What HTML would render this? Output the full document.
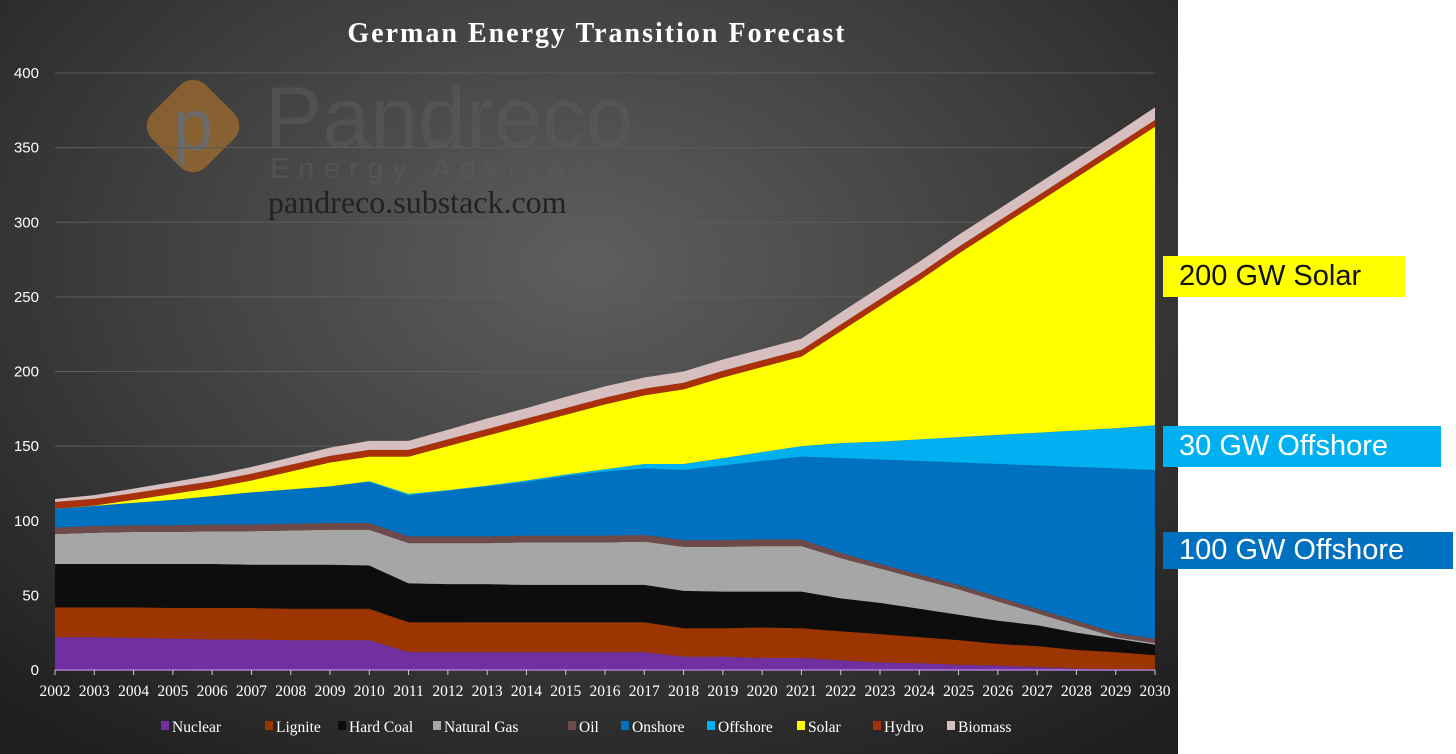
<!DOCTYPE html>
<html><head><meta charset="utf-8">
<style>
html,body{margin:0;padding:0;background:#fff;width:1456px;height:754px;overflow:hidden;font-family:"Liberation Serif",serif;}
#panel{position:absolute;left:0;top:0;width:1178px;height:754px;background:radial-gradient(ellipse 75% 80% at 50% 35%,#5e5e5e 0%,#3c3c3c 55%,#1e1e1e 100%);}
.lbl{position:absolute;font-family:"Liberation Sans",sans-serif;font-size:29px;color:#111;padding-left:16px;box-sizing:border-box;}
</style></head><body>
<div id="panel"></div>
<svg id="chart" width="1456" height="754" style="position:absolute;left:0;top:0">
  <g opacity="0.6">
    <rect x="155" y="88" width="76" height="76" rx="18" transform="rotate(45 193 126)" fill="#b8782a"/>
    <text x="193" y="150" text-anchor="middle" font-family="Liberation Sans,sans-serif" font-size="72" fill="#888">p</text>
    <text x="265" y="147" font-family="Liberation Sans,sans-serif" font-size="86" fill="#5a5a5a">Pandreco</text>
    <text x="270" y="178" font-family="Liberation Sans,sans-serif" font-size="29" letter-spacing="9" fill="#5a5a5a">Energy Advisory</text>
  </g>
  <text x="268" y="213" font-family="Liberation Serif,serif" font-size="32" fill="#222">pandreco.substack.com</text>
  <text x="597" y="42" text-anchor="middle" font-family="Liberation Serif,serif" font-weight="bold" font-size="28" letter-spacing="2" fill="#fff">German Energy Transition Forecast</text>
  <g id="grid"></g><g id="areas"></g><g id="axes"></g><g id="legend"></g>
</svg>
<div class="lbl" style="left:1163px;top:256px;width:242px;height:41px;line-height:41px;background:#ffff00;">200 GW Solar</div>
<div class="lbl" style="left:1163px;top:426px;width:278px;height:41px;line-height:41px;background:#00b0f0;color:#fff;">30 GW Offshore</div>
<div class="lbl" style="left:1163px;top:532px;width:290px;height:37px;line-height:37px;background:#0070c0;color:#fff;">100 GW Offshore</div>
<script>
const years=[2002,2003,2004,2005,2006,2007,2008,2009,2010,2011,2012,2013,2014,2015,2016,2017,2018,2019,2020,2021,2022,2023,2024,2025,2026,2027,2028,2029,2030];
const seriesNames=["Nuclear","Lignite","Hard Coal","Natural Gas","Oil","Onshore","Offshore","Solar","Hydro","Biomass"];
const nuclear=[22,22,21.5,21,20.5,20.5,20,20,20,12,12,12,12,12,12,12,9,9,8,8,6.5,5,4.5,3.5,3,2,1,0.5,0];
const lignite=[20,20,20.5,20.5,21,21,21,21,21,20,20,20,20,20,20,20,19,19,20.5,20,19.5,19,17.5,16.5,14.5,14,12.5,11.5,10];
const hardCoal=[29,29,29,29.5,29.5,29,29.5,29.5,29,26,25.5,25.5,25,25,25,25,25,24.5,24,24.5,22,21,19,17,15.5,14,11.5,9,7];
const naturalGas=[20,21,21.5,21.5,22,22.5,23,23.5,24,27,27.5,27.5,28.5,28.5,28.5,29,29.5,30,30.5,30.5,27,23,20,17,13,8,5,1,1];
const oil=[4.5,4.5,4.5,4.5,4.5,4.5,4.5,4.5,4.5,4.5,4.5,4.5,4.5,4.5,4.5,4.5,4.5,4.5,4.5,4.5,3.5,3,3,3,3,3,3,3,3];
const onshore=[12.5,13.5,15,17,19,21.5,23,24.5,27.5,27.5,30.5,33.5,36,40,43,44.5,47,50,52.5,55.5,63.5,70,76,82,89,96,103,110,113];
const offshore=[0,0,0,0,0,0,0,0,0.5,1,0.5,0.5,1,1,1.5,3,4,5,6,7,10,12,14.5,17,19.5,22,24.5,27,30];
const solar=[0.1,0.2,2,4,5.5,8,12,16,16.5,25,29.5,33.5,37,40,43.5,46,50,54,57,60,75,91,106.5,123,138.5,154,169.5,185,200];
const hydro=[4.5,4.5,4.5,4.5,4.5,4.5,4.5,4.5,4.5,4.5,4.5,4.5,4.5,4.5,4.5,4.5,4.5,4.5,4.5,4.5,4.5,4.5,4.5,4.5,4.5,4.5,4.5,4.5,4.5];
const biomass=[2,2.5,3,3.5,4,4.5,5,5.5,6,6,6.5,7,7,7.5,7.5,7.5,7.5,7.5,7.5,7.5,8,8,8,8,8,8,8,8,8.5];
const yTicks=[0,50,100,150,200,250,300,350,400];

const series=[nuclear,lignite,hardCoal,naturalGas,oil,onshore,offshore,solar,hydro,biomass];
const colors=["#7030a0","#9c3500","#0d0d0d","#a6a6a6","#6e4a4a","#0070c0","#00b0f0","#ffff00","#a8310c","#d8bfbf"];
const NS="http://www.w3.org/2000/svg";
const X0=55,X1=1155,Y0=670,Y1=73,YMAX=400;
const x=i=>X0+(X1-X0)*i/(years.length-1);
const y=v=>Y0-(Y0-Y1)*v/YMAX;
function mk(t,a){const e=document.createElementNS(NS,t);for(const k in a)e.setAttribute(k,a[k]);return e;}
const grid=document.getElementById('grid'),areas=document.getElementById('areas'),axes=document.getElementById('axes'),legend=document.getElementById('legend');
yTicks.forEach(t=>{
  if(t>0){const l=mk('line',{x1:X0,x2:X1,y1:y(t),y2:y(t),stroke:'#5c5c5c','stroke-width':1});
  
  grid.appendChild(l);}
  const tx=mk('text',{x:39,y:y(t)+5,'text-anchor':'end','font-size':15,fill:'#fff','font-family':'Liberation Sans,sans-serif'});
  tx.textContent=t;
  
  axes.appendChild(tx);
});
let base=years.map(()=>0);
series.forEach((s,k)=>{
  const top=base.map((b,i)=>b+s[i]);
  let d='M'+years.map((_,i)=>x(i)+','+y(top[i])).join(' L');
  for(let i=years.length-1;i>=0;i--)d+=' L'+x(i)+','+y(base[i]);
  d+=' Z';
  const p=mk('path',{d:d,fill:colors[k]});
  
  
  areas.appendChild(p);
  base=top;
});
const ax=mk('line',{x1:X0,x2:X1,y1:Y0,y2:Y0,stroke:'#b07ad0','stroke-width':1.5});

axes.appendChild(ax);
years.forEach((yr,i)=>{
  const tk=mk('line',{x1:x(i),x2:x(i),y1:Y0,y2:Y0+5,stroke:'#ccc'});
  
  axes.appendChild(tk);
  const t=mk('text',{x:x(i),y:696,'text-anchor':'middle','font-size':15.5,fill:'#fff','font-family':'Liberation Serif,serif'});
  t.textContent=yr;
  
  axes.appendChild(t);
});
const legX=[161,265,338,433,568,621,707,797,873,947];
seriesNames.forEach((n,k)=>{
  const g=mk('g',{});
  
  
  g.appendChild(mk('rect',{x:legX[k],y:721,width:8,height:9,fill:colors[k]}));
  const t=mk('text',{x:legX[k]+11,y:732,'font-size':15.5,fill:'#fff','font-family':'Liberation Serif,serif'});
  t.textContent=n;g.appendChild(t);legend.appendChild(g);
});
</script>
</body></html>
